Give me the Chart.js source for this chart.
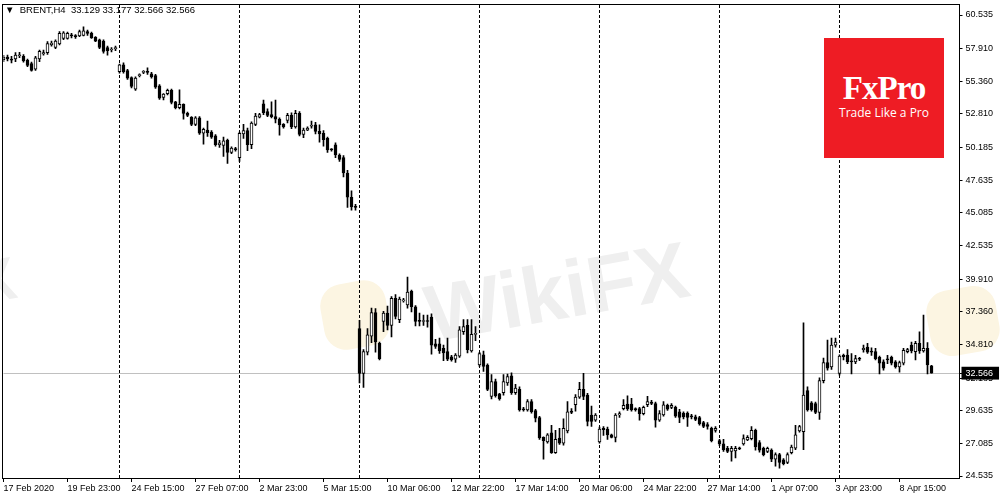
<!DOCTYPE html>
<html>
<head>
<meta charset="utf-8">
<script src="https://cdn.jsdelivr.net/npm/chart.js@4.4.1/dist/chart.umd.min.js"></script>
<style>
  html, body { margin: 0; padding: 0; background: #fff; }
  #wrap { position: relative; width: 1000px; height: 500px; overflow: hidden; font-family: "Liberation Sans", Arial, sans-serif; }
  .wm { position: absolute; font-family: "Liberation Sans", Arial, sans-serif; font-weight: bold; color: #efefef; white-space: nowrap; transform-origin: left top; }
  .wmicon { position: absolute; background: #fcf5e2; border-radius: 22px; transform: rotate(-10deg); }
  #chart { position: absolute; left: 0; top: 0; }
  #hdr { position: absolute; left: 5px; top: 4px; font-size: 9.5px; color: #000; white-space: pre; }
  #logo { position: absolute; left: 824px; top: 38px; width: 120px; height: 120px; background: #ee1c24; color: #fff; }
  #logo .big { position: absolute; left: 0; width: 120px; top: 34px; text-align: center; font-family: "Liberation Serif", "DejaVu Serif", serif; font-weight: bold; font-size: 33px; line-height: 33px; letter-spacing: -1px; }
  #logo .small { position: absolute; left: 0; width: 120px; top: 68px; text-align: center; font-family: "Open Sans", "Liberation Sans", sans-serif; font-size: 12px; line-height: 14px; }
</style>
</head>
<body>
<div id="wrap">
  <div class="wmicon" style="left:322px;top:282px;width:66px;height:66px;"></div>
  <div class="wm" style="left:418px;top:270px;font-size:80px;transform:rotate(-10deg);">WikiFX</div>
  <div class="wm" style="left:-30px;top:250px;font-size:60px;transform:rotate(-10deg);">X</div>
  <div class="wmicon" style="left:928px;top:288px;width:70px;height:66px;"></div>
  <canvas id="chart" width="1000" height="500"></canvas>
  <div id="hdr">&#9660;  BRENT,H4  33.129 33.177 32.566 32.566</div>
  <div id="logo"><div class="big">FxPro</div><div class="small">Trade Like a Pro</div></div>
</div>
<script>
// ---- data (BRENT, H4) ----
const opens = [
57.05,57.25,57.10,57.10,57.35,57.30,57.00,56.75,56.30,57.10,
57.50,57.60,58.20,58.00,58.27,58.70,58.70,58.95,58.90,58.90,
58.95,59.25,59.10,58.80,58.60,58.50,58.00,57.80,57.90,56.10,
56.65,56.20,55.65,54.75,55.80,56.05,56.10,55.95,55.80,55.00,
54.10,54.40,54.65,53.75,53.30,53.55,52.85,52.55,52.00,52.50,
51.30,51.55,51.40,51.10,50.40,50.35,50.75,49.80,50.10,49.40,
51.25,51.50,50.40,52.00,52.55,53.60,53.00,52.75,52.60,52.40,
52.00,52.30,52.70,51.80,52.85,51.20,51.55,51.85,51.95,51.45,
51.30,50.90,50.05,50.40,49.60,49.40,48.20,46.30,45.60,36.05,
32.55,34.20,35.45,37.30,34.90,36.60,37.25,36.30,38.40,36.75,
38.20,37.90,38.95,37.75,36.70,36.60,36.65,36.95,34.85,34.85,
34.50,34.25,33.85,33.65,33.90,35.80,36.30,34.30,35.60,33.20,
34.00,33.20,30.75,31.90,30.95,31.05,31.80,32.35,31.05,31.30,
29.75,29.70,30.35,29.65,29.10,27.55,27.20,27.90,26.35,27.50,
27.10,28.05,29.60,30.10,30.70,31.30,30.85,29.30,28.90,27.20,
28.25,28.20,27.75,27.55,29.30,29.80,30.15,30.15,29.80,29.80,
29.40,30.10,30.30,30.20,28.90,29.30,30.05,29.90,29.90,29.55,
29.45,29.45,29.20,29.15,29.10,28.70,28.55,28.25,28.10,27.30,
27.05,26.70,26.45,26.50,26.70,27.05,27.35,27.45,28.10,27.15,
26.70,26.45,26.55,25.85,26.20,25.80,25.60,26.35,26.70,28.05,
28.00,31.20,30.25,30.20,29.50,31.98,33.40,33.05,34.75,32.55,
33.95,33.98,33.50,33.45,33.70,34.40,34.60,34.30,34.25,33.80,
33.45,33.65,33.80,33.45,33.05,33.35,34.25,34.75,34.25,34.90,
34.30,34.50,33.129];
const highs = [
57.38,57.40,57.30,57.60,57.62,57.45,57.10,56.85,57.30,57.80,
57.80,58.45,58.50,58.60,59.25,59.25,59.20,59.10,59.00,59.35,
59.62,59.35,59.20,58.85,58.65,58.60,58.10,58.00,58.10,56.70,
56.80,56.30,55.70,55.70,55.95,56.20,56.40,56.05,55.90,55.10,
54.40,54.75,54.75,53.80,54.70,53.60,52.95,52.60,52.60,52.60,
51.70,52.25,51.50,51.20,50.75,51.00,50.85,50.25,50.20,51.40,
52.00,51.70,52.20,52.85,52.85,53.90,53.20,53.75,53.90,52.50,
52.05,52.85,52.90,53.10,53.00,51.70,51.80,52.25,52.15,51.95,
51.50,51.00,50.10,50.55,49.70,49.55,48.40,46.80,45.75,36.70,
34.40,36.05,37.65,37.60,35.00,37.40,37.80,38.55,38.70,38.50,
38.40,40.07,39.05,37.85,37.25,37.10,37.10,37.20,35.20,35.30,
34.75,35.30,33.95,34.10,36.20,36.75,36.75,36.75,36.20,34.20,
34.30,33.30,32.45,32.10,31.00,32.45,32.50,32.60,31.70,31.50,
29.90,30.50,30.50,29.75,29.20,27.60,27.85,28.50,28.10,28.25,
29.00,30.35,29.80,30.90,31.85,32.55,31.00,30.00,29.40,28.35,
28.40,28.35,27.80,29.40,29.55,30.50,30.80,30.60,29.85,29.90,
30.00,30.75,30.45,30.30,29.65,30.35,30.15,30.20,30.00,29.75,
29.55,29.55,29.35,29.30,29.20,28.80,28.70,28.35,28.40,27.40,
27.40,26.85,26.85,26.85,26.80,27.75,27.70,28.40,28.20,27.30,
26.80,26.80,26.65,26.35,26.30,25.90,26.35,26.95,28.50,28.50,
36.50,31.50,30.35,30.30,32.20,33.75,35.15,35.30,35.30,34.00,
34.05,34.40,34.10,33.95,33.80,34.75,34.90,34.55,34.50,33.90,
33.60,33.95,33.90,33.55,33.50,34.50,34.50,35.00,35.05,35.80,
37.11,34.95,33.177];
const lows = [
56.90,56.95,56.80,56.90,57.20,56.85,56.50,56.15,56.20,56.90,
57.40,57.45,58.10,57.90,58.20,58.60,58.65,58.75,58.70,58.85,
58.90,58.95,58.70,58.45,57.90,57.55,57.40,57.65,57.75,56.00,
56.00,55.50,54.85,54.65,55.70,55.95,55.90,55.60,54.80,53.95,
53.90,54.30,53.60,53.20,53.20,52.40,52.60,51.90,51.90,51.20,
50.45,51.05,50.90,50.30,50.20,49.50,48.95,49.70,49.90,49.10,
50.90,49.95,50.10,51.90,52.50,52.75,52.60,52.50,52.10,51.15,
51.70,52.10,51.65,51.70,51.10,50.95,51.50,51.70,51.25,50.60,
50.30,49.80,49.90,49.40,49.10,47.90,45.50,45.30,45.30,31.80,
31.45,34.00,34.94,34.20,33.60,35.80,35.95,35.40,36.80,36.50,
38.10,37.65,37.35,36.25,36.25,36.30,36.15,34.05,34.50,34.10,
33.55,33.55,33.50,33.40,33.80,35.60,34.15,34.20,35.10,33.10,
32.70,31.20,30.55,30.70,30.45,30.85,31.60,30.90,30.90,29.60,
29.60,29.60,29.45,28.75,27.40,25.85,27.10,26.30,26.30,27.00,
26.95,27.90,29.40,29.60,30.60,30.50,28.45,28.40,28.80,27.10,
27.70,27.40,27.50,27.20,29.10,29.70,29.65,29.60,29.60,28.90,
29.30,29.95,30.10,28.35,28.80,29.20,29.65,29.80,29.10,28.70,
29.00,28.40,29.00,28.85,28.50,28.30,28.20,27.20,27.95,26.90,
26.45,26.35,25.70,25.95,26.60,26.95,27.30,27.35,26.55,26.40,
26.10,26.35,25.65,25.30,25.15,25.40,25.50,26.25,26.60,27.95,
26.60,29.60,29.60,29.40,28.95,31.80,32.80,32.85,34.60,32.40,
33.60,33.30,32.50,33.30,33.55,34.20,34.10,33.95,33.60,32.50,
32.80,33.30,33.20,32.95,32.65,33.20,34.15,34.15,33.60,34.10,
34.20,32.50,32.566];
const closes = [
57.25,57.10,57.00,57.40,57.40,56.95,56.60,56.20,57.20,57.70,
57.60,58.30,58.35,58.50,59.10,59.15,59.10,58.90,58.85,59.25,
59.30,59.10,58.75,58.50,58.00,57.70,57.75,57.85,58.00,56.65,
56.10,55.60,54.95,55.60,55.85,56.10,56.05,55.70,54.90,54.05,
54.35,54.65,53.70,53.30,53.55,52.85,52.70,52.00,52.50,51.30,
51.60,51.35,51.00,50.40,50.55,50.70,49.80,50.15,50.00,51.30,
51.50,50.40,52.10,52.65,52.75,52.90,52.70,52.60,52.40,51.95,
51.80,52.70,51.80,52.85,51.20,51.55,51.70,51.90,51.45,51.25,
50.80,49.99,50.00,49.60,49.25,48.20,46.30,45.55,45.50,32.55,
34.25,35.55,37.30,35.00,33.70,37.25,36.30,38.40,37.00,38.35,
38.30,38.90,37.75,36.60,36.60,36.65,36.60,34.75,34.65,34.30,
34.15,33.65,33.60,33.98,35.94,36.20,34.40,35.60,35.65,34.10,
33.10,31.30,31.90,30.80,30.55,31.90,32.30,31.05,31.40,29.70,
29.70,30.35,29.55,29.05,27.50,27.30,27.75,26.35,27.40,27.10,
28.25,29.55,29.50,30.70,31.30,30.75,28.80,28.80,29.30,28.20,
28.15,27.75,27.55,29.30,29.40,30.05,29.80,29.70,29.70,29.40,
29.90,30.35,30.20,28.90,29.40,30.10,29.75,30.05,29.20,29.10,
29.15,29.10,29.15,28.95,28.60,28.40,28.40,27.30,28.25,27.05,
26.60,26.45,26.70,26.70,26.65,27.45,27.55,28.10,26.80,26.55,
26.20,26.70,25.85,26.20,25.60,25.50,26.20,26.80,27.75,28.40,
30.85,29.70,29.70,29.50,31.98,33.40,32.95,34.75,35.00,33.90,
33.85,33.46,33.45,33.70,33.65,34.50,34.20,34.20,33.70,33.35,
32.95,33.60,33.35,33.05,33.40,34.35,34.40,34.30,34.90,34.30,
34.50,33.20,32.566];

const currentPrice = 32.566;
const tickLabels = ["17 Feb 2020","19 Feb 23:00","24 Feb 15:00","27 Feb 07:00","2 Mar 23:00",
  "5 Mar 15:00","10 Mar 06:00","12 Mar 22:00","17 Mar 14:00","20 Mar 06:00",
  "24 Mar 22:00","27 Mar 14:00","1 Apr 07:00","3 Apr 23:00","8 Apr 15:00"];
const labelSlots = [0,16,32,48,64,80,96,112,128,144,160,176,192,208,224];   // bar index of each tick label
const separatorSlots = [29,59,89,119,149,179,209];                         // first bar of each week
const yTicks = [60.535,57.910,55.360,52.810,50.185,47.635,45.085,42.535,39.910,37.360,34.810,32.185,29.635,27.085,24.535];
const slotCount = 240;   // bar slots visible on screen (chart shift on the right)

// ---- build ----
const categories = [];
for (let i = 0; i < slotCount; i++) categories.push(String(i));
const slotLabel = {};
labelSlots.forEach((s, k) => { slotLabel[s] = tickLabels[k]; });

const bodyData = opens.map((o, i) => [o, closes[i]]);
const wickData = lows.map((l, i) => [l, highs[i]]);
const bodyFill = opens.map((o, i) => closes[i] > o ? '#ffffff' : '#000000');

const FONT = "'Liberation Sans', Arial, sans-serif";

const framePlugin = {
  id: 'frame',
  afterDraw(chart) {
    const a = chart.chartArea, ctx = chart.ctx;
    ctx.save();
    ctx.strokeStyle = '#000';
    ctx.lineWidth = 1;
    const l = Math.floor(a.left) - 0.5, t = Math.floor(a.top) - 0.5;
    const r = Math.floor(a.right) + 0.5, b = Math.floor(a.bottom) + 0.5;
    ctx.strokeRect(l, t, r - l, b - t);
    ctx.restore();
  }
};

new Chart(document.getElementById('chart'), {
  type: 'bar',
  data: {
    labels: categories,
    datasets: [
      {
        label: 'body',
        data: bodyData,
        backgroundColor: bodyFill,
        borderColor: '#000',
        borderWidth: 1,
        borderSkipped: false,
        barThickness: 3,
        minBarLength: 1,
        grouped: false,
        order: 1
      },
      {
        label: 'wick',
        data: wickData,
        backgroundColor: '#000',
        borderWidth: 0,
        barThickness: 1,
        minBarLength: 1,
        grouped: false,
        order: 2
      }
    ]
  },
  options: {
    responsive: false,
    animation: false,
    devicePixelRatio: 1,
    layout: { padding: { left: 3.5, top: 5, right: 0, bottom: 0 } },
    plugins: { legend: { display: false }, tooltip: { enabled: false }, title: { display: false } },
    scales: {
      x: {
        type: 'category',
        offset: false,
        grid: {
          offset: false,
          drawOnChartArea: true,
          lineWidth: 1,
          color: (c) => separatorSlots.includes(c.index) ? '#000' : 'rgba(0,0,0,0)',
          tickColor: (c) => (c.index in slotLabel) ? '#000' : 'rgba(0,0,0,0)',
          tickLength: 4
        },
        border: { display: false, dash: [3, 2] },
        ticks: {
          autoSkip: false,
          maxRotation: 0,
          minRotation: 0,
          align: 'start',
          padding: 1,
          color: '#000',
          font: { family: FONT, size: 9 },
          callback: (v, i) => slotLabel[i] || ''
        },
        afterFit: (s) => { s.height = 22; s.paddingLeft = 0; s.paddingRight = 0; }
      },
      y: {
        type: 'linear',
        position: 'right',
        min: 24.379,
        max: 61.316,
        afterBuildTicks: (s) => { s.ticks = yTicks.concat([currentPrice]).map(v => ({ value: v })); },
        grid: {
          drawOnChartArea: true,
          color: (c) => (c.tick && c.tick.value === currentPrice) ? '#c0c0c0' : 'rgba(0,0,0,0)',
          tickColor: '#000',
          tickLength: 3
        },
        border: { display: false },
        ticks: {
          autoSkip: false,
          padding: 3,
          font: { family: FONT, size: 9 },
          color: (c) => (c.tick && c.tick.value === currentPrice) ? '#fff' : '#000',
          showLabelBackdrop: (c) => !!(c.tick && c.tick.value === currentPrice),
          backdropColor: '#000',
          backdropPadding: { left: 4, right: 6, top: 1, bottom: 1 },
          callback: (v) => Number(v).toFixed(3)
        },
        afterFit: (s) => { s.width = 40.5; s.paddingTop = 0; s.paddingBottom = 0; }
      }
    }
  },
  plugins: [framePlugin]
});
</script>
</body>
</html>
